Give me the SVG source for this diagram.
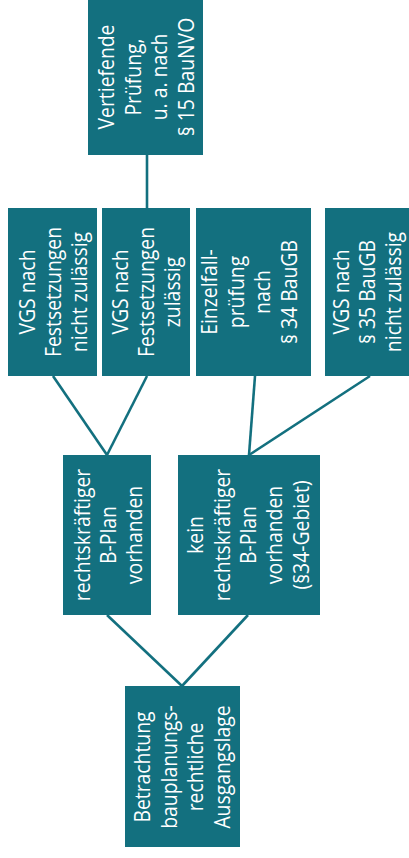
<svg xmlns="http://www.w3.org/2000/svg" width="409" height="858" viewBox="0 0 409 858">
<style>
.box{fill:#13707f}
.lbl{fill:#ffffff;font-family:"Open Sans","Noto Sans",sans-serif;font-size:22px;text-anchor:middle}
.con{stroke:#13707f;stroke-width:2.6;fill:none}
</style>
<rect width="409" height="858" fill="#ffffff"/>
<g id="connectors">
<line class="con" x1="147" y1="155" x2="147" y2="208"/>
<line class="con" x1="53" y1="376" x2="107" y2="455"/>
<line class="con" x1="147" y1="376" x2="107" y2="455"/>
<line class="con" x1="255" y1="376" x2="249" y2="455"/>
<line class="con" x1="370" y1="376" x2="249" y2="455"/>
<line class="con" x1="107" y1="615" x2="182" y2="686"/>
<line class="con" x1="248" y1="615" x2="182" y2="686"/>
</g>
<g id="node-vertiefend">
<rect class="box" x="88" y="-2" width="115" height="157"/>
<text class="lbl" transform="translate(147,77) rotate(-90) scale(0.88,1)"><tspan x="0" y="-32.75">Vertiefende</tspan><tspan x="0" y="-6.25">Prüfung,</tspan><tspan x="0" y="20.25">u. a. nach</tspan><tspan x="0" y="46.75">§ 15 BauNVO</tspan></text>
</g>
<g id="node-vgs-fest-nicht">
<rect class="box" x="8" y="208" width="89" height="168"/>
<text class="lbl" transform="translate(54,292) rotate(-90) scale(0.88,1)"><tspan x="0" y="-19.5">VGS nach</tspan><tspan x="0" y="7">Festsetzungen</tspan><tspan x="0" y="33.5">nicht zulässig</tspan></text>
</g>
<g id="node-vgs-fest-zul">
<rect class="box" x="102" y="208" width="88" height="168"/>
<text class="lbl" transform="translate(147,292) rotate(-90) scale(0.88,1)"><tspan x="0" y="-19.5">VGS nach</tspan><tspan x="0" y="7">Festsetzungen</tspan><tspan x="0" y="33.5">zulässig</tspan></text>
</g>
<g id="node-einzelfall">
<rect class="box" x="196" y="208" width="115" height="168"/>
<text class="lbl" transform="translate(250,292) rotate(-90) scale(0.88,1)"><tspan x="0" y="-32.75">Einzelfall-</tspan><tspan x="0" y="-6.25">prüfung</tspan><tspan x="0" y="20.25">nach</tspan><tspan x="0" y="46.75">§ 34 BauGB</tspan></text>
</g>
<g id="node-vgs-35">
<rect class="box" x="325" y="208" width="90" height="168"/>
<text class="lbl" transform="translate(368,292) rotate(-90) scale(0.88,1)"><tspan x="0" y="-19.5">VGS nach</tspan><tspan x="0" y="7">§ 35 BauGB</tspan><tspan x="0" y="33.5">nicht zulässig</tspan></text>
</g>
<g id="node-bplan">
<rect class="box" x="63" y="455" width="88" height="160"/>
<text class="lbl" transform="translate(109,535) rotate(-90) scale(0.88,1)"><tspan x="0" y="-19.5">rechtskräftiger</tspan><tspan x="0" y="7">B-Plan</tspan><tspan x="0" y="33.5">vorhanden</tspan></text>
</g>
<g id="node-kein-bplan">
<rect class="box" x="178" y="455" width="142" height="160"/>
<text class="lbl" transform="translate(249,535) rotate(-90) scale(0.88,1)"><tspan x="0" y="-46">kein</tspan><tspan x="0" y="-19.5">rechtskräftiger</tspan><tspan x="0" y="7">B-Plan</tspan><tspan x="0" y="33.5">vorhanden</tspan><tspan x="0" y="60">(§34-Gebiet)</tspan></text>
</g>
<g id="node-betrachtung">
<rect class="box" x="125" y="686" width="115" height="161"/>
<text class="lbl" transform="translate(183,767) rotate(-90) scale(0.88,1)"><tspan x="0" y="-32.75">Betrachtung</tspan><tspan x="0" y="-6.25">bauplanungs-</tspan><tspan x="0" y="20.25">rechtliche</tspan><tspan x="0" y="46.75">Ausgangslage</tspan></text>
</g>
</svg>
